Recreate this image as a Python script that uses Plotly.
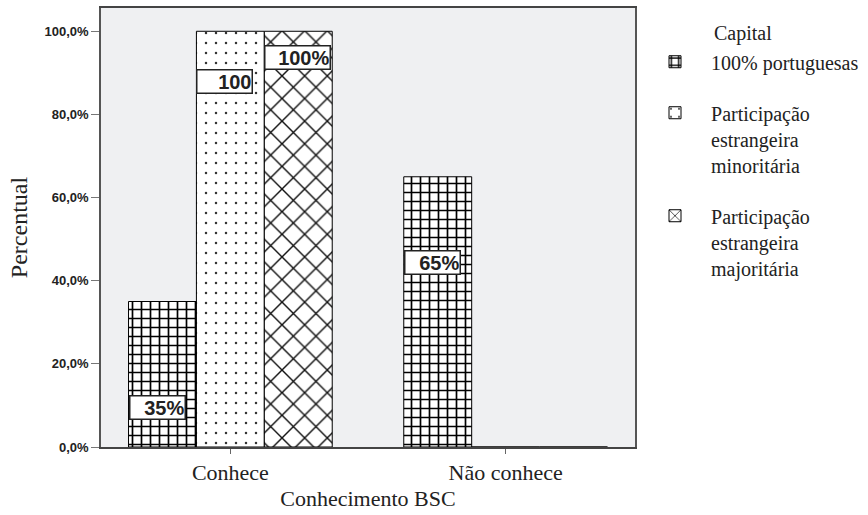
import plotly.graph_objects as go

categories = ["Conhece", "Não conhece"]
series_names = ["100% portuguesas", "Participação estrangeira minoritária", "Participação estrangeira majoritária"]
legend_labels = ["100% portuguesas", "Participação<br>estrangeira<br>minoritária", "Participação<br>estrangeira<br>majoritária"]
val_portuguesas = [35, 65]
val_minoritaria = [100, 0]
val_majoritaria = [100, 0]
series_values = [val_portuguesas, val_minoritaria, val_majoritaria]

y_tick_vals = [0, 20, 40, 60, 80, 100]
y_tick_text = ["0,0%", "20,0%", "40,0%", "60,0%", "80,0%", "100,0%"]

# bar labels: (category index, series index, label text, label y position)
label_cat = [0, 0, 0, 1]
label_series = [0, 1, 2, 0]
label_text = ["35%", "100", "100%", "65%"]
label_y = [9.4, 88, 93.6, 44.5]
label_width = [54, 54, 64, 54]

SERIF = "Liberation Serif"
SANS = "Liberation Sans"

patterns = [
    dict(shape="+", fgcolor="black", bgcolor="white", size=9, solidity=0.34, fgopacity=1),
    dict(shape=".", fgcolor="#333", bgcolor="white", size=10, solidity=0.05, fgopacity=1),
    dict(shape="x", fgcolor="#111", bgcolor="white", size=16, solidity=0.17, fgopacity=1),
]

bargap = 0.26

fig = go.Figure()
for i, name in enumerate(series_names):
    fig.add_trace(go.Bar(
        x=categories, y=series_values[i], name=legend_labels[i],
        legendgroup=str(i),
        marker=dict(color="white", pattern=patterns[i], line=dict(color="black", width=1)),
    ))

bar_w = (1 - bargap) / 3
for c, s, t, y, w in zip(label_cat, label_series, label_text, label_y, label_width):
    fig.add_annotation(
        x=c - (1 - bargap) / 2 + s * bar_w, y=y, xref="x", yref="y",
        xanchor="left", yanchor="middle", xshift=0,
        text="<b>" + t + "</b>", showarrow=False, align="right", width=w,
        font=dict(family=SANS, size=20, color="#222"),
        bgcolor="white", bordercolor="#222", borderwidth=1.5, borderpad=0,
    )

fig.add_annotation(
    xref="paper", yref="paper", x=(712 - 101) / 534, y=1 - (33 - 8) / 439,
    xanchor="left", yanchor="middle", text="Capital", showarrow=False,
    font=dict(family=SERIF, size=20, color="#222"),
)

fig.update_layout(
    width=868, height=515,
    margin=dict(l=101, r=233, t=8, b=68, autoexpand=False),
    paper_bgcolor="white", plot_bgcolor="#EFF0F2",
    font=dict(family=SERIF, color="#222"),
    barmode="group", bargap=bargap, bargroupgap=0,
    showlegend=True,
    legend=dict(
        x=1.0075, y=0.922, xanchor="left", yanchor="top",
        traceorder="grouped", tracegroupgap=22, valign="top",
        font=dict(family=SERIF, size=20, color="#222"),
        itemwidth=62, bgcolor="rgba(0,0,0,0)",
    ),
    xaxis=dict(
        type="category", range=[-0.47, 1.47], automargin=False,
        showline=True, linecolor="#444", linewidth=1.5, mirror=True,
        ticks="outside", ticklen=5, tickcolor="#666",
        tickfont=dict(family=SERIF, size=22, color="#222"),
        title=dict(text="Conhecimento BSC", standoff=6,
                   font=dict(family=SERIF, size=22, color="#222")),
        showgrid=False,
    ),
    yaxis=dict(
        range=[0, 105.6], tickvals=y_tick_vals, ticktext=y_tick_text, automargin=False,
        showline=True, linecolor="#555", linewidth=1.5, mirror=True,
        ticks="outside", ticklen=8, tickcolor="#777",
        tickfont=dict(family=SANS, size=13, color="#222", weight="bold"),
        title=dict(text="Percentual", standoff=10,
                   font=dict(family=SERIF, size=24, color="#222")),
        showgrid=False, zeroline=False,
    ),
)

fig.write_html("out.html", post_script="document.body.style.margin='0';",
               config={"displayModeBar": False})
